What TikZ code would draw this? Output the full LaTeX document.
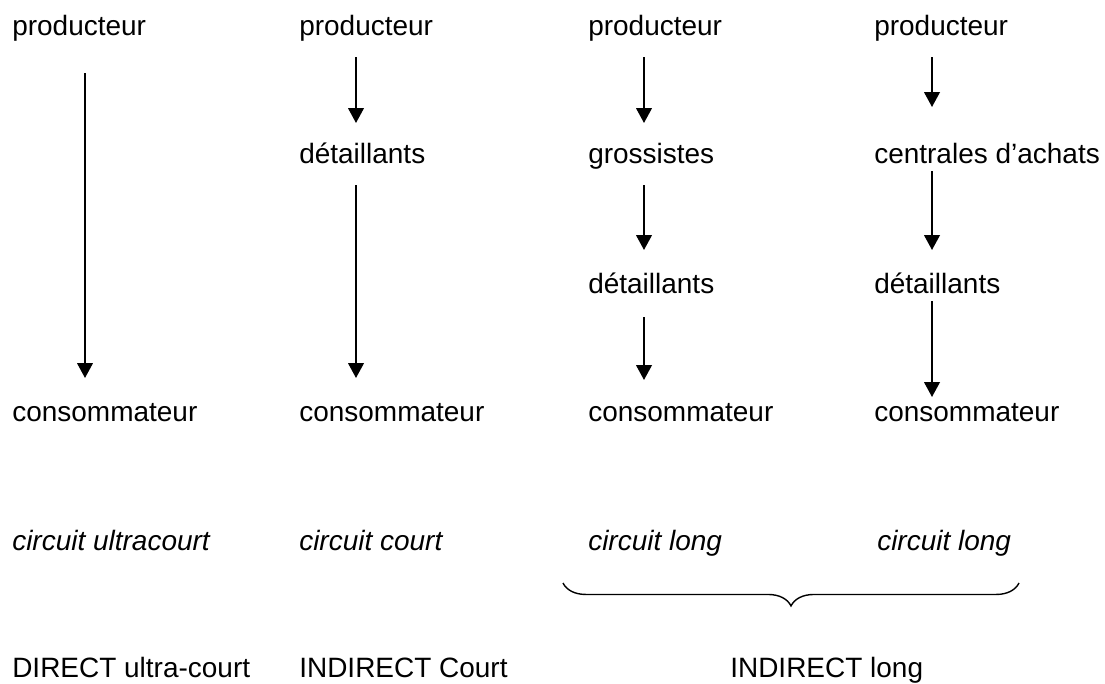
\documentclass[tikz,border=0pt]{standalone}
\usepackage{fontspec}
\setmainfont{Liberation Sans}
\usetikzlibrary{arrows.meta,calc,decorations.pathreplacing}

\begin{document}
\begin{tikzpicture}[x=0.025cm, y=-0.025cm,
    every node/.style={anchor=base west, inner sep=0pt, font=\fontsize{19.9}{24}\selectfont},
    arr/.style={line width=1.4pt, -{Triangle[width=11pt,length=10.5pt]}},
    lbl/.style={font=\fontsize{19.9}{24}\selectfont\itshape}]
  \useasboundingbox (0,0) rectangle (1105,684);

  % columns of the arrows
  \coordinate (x1) at (85,0);
  \coordinate (x2) at (356,0);
  \coordinate (x3) at (644,0);
  \coordinate (x4) at (932,0);

  % first row
  \node (p1) at (12,35) {producteur};
  \node (p2) at (299,35) {producteur};
  \node (p3) at (588,35) {producteur};
  \node (p4) at (874,35) {producteur};

  % middle rows
  \node (r2) at (299,163) {détaillants};
  \node (g3) at (588,163) {grossistes};
  \node (c4) at (874,163) {centrales d’achats};
  \node (d3) at (588,293) {détaillants};
  \node (d4) at (874,293) {détaillants};

  % last row
  \node (k1) at (12,421) {consommateur};
  \node (k2) at (299,421) {consommateur};
  \node (k3) at (588,421) {consommateur};
  \node (k4) at (874,421) {consommateur};

  % arrows
  \draw[arr] ($(p1.base -| x1)+(0,38)$) -- ($(k1.base -| x1)+(0,-43)$);

  \draw[arr] ($(p2.base -| x2)+(0,22)$) -- ($(r2.base -| x2)+(0,-40)$);
  \draw[arr] ($(r2.base -| x2)+(0,22)$) -- ($(k2.base -| x2)+(0,-43)$);

  \draw[arr] ($(p3.base -| x3)+(0,22)$) -- ($(g3.base -| x3)+(0,-40)$);
  \draw[arr] ($(g3.base -| x3)+(0,22)$) -- ($(d3.base -| x3)+(0,-43)$);
  \draw[arr] ($(d3.base -| x3)+(0,24)$) -- ($(k3.base -| x3)+(0,-41)$);

  \draw[arr] ($(p4.base -| x4)+(0,22)$) -- ($(c4.base -| x4)+(0,-56)$);
  \draw[arr] ($(c4.base -| x4)+(0,8)$) -- ($(d4.base -| x4)+(0,-43)$);
  \draw[arr] ($(d4.base -| x4)+(0,8)$) -- ($(k4.base -| x4)+(0,-24)$);

  % kinds of circuit
  \node[lbl] (ci1) at (12,550) {circuit ultracourt};
  \node[lbl] (ci2) at (299,550) {circuit court};
  \node[lbl] (ci3) at (588,550) {circuit long};
  \node[lbl] (ci4) at (877,550) {circuit long};

  % brace under the long circuits
  \coordinate (bl) at (563,583);
  \coordinate (br) at (1019,583);
  \draw[line width=1pt, decorate, decoration={brace, mirror, amplitude=16.3pt}] (bl) -- (br);

  % bottom row
  \node (t1) at (12,677) {DIRECT ultra-court};
  \node (t2) at (299,677) {INDIRECT Court};
  \node (t3) at (730,677) {INDIRECT long};
\end{tikzpicture}
\end{document}
